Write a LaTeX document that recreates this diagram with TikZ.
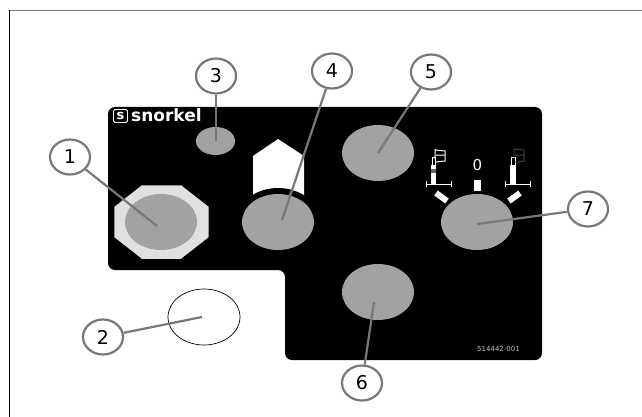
\documentclass[tikz,border=0pt]{standalone}
\usepackage{fontspec}
\setmainfont{DejaVu Sans}
\usetikzlibrary{shapes.geometric}
\definecolor{knobgray}{RGB}{163,162,160}
\definecolor{leadgray}{RGB}{120,120,120}
\tikzset{
    callout/.style={ellipse,draw=leadgray,line width=2.2pt,fill=white,minimum width=40pt,minimum height=35pt,inner sep=0pt,font=\fontsize{19}{19}\selectfont},
    knob/.style={ellipse,fill=knobgray,minimum width=72pt,minimum height=56pt,inner sep=0pt},
    leader/.style={draw=leadgray,line width=2.2pt},
    iconline/.style={draw=white,line width=1pt}
}
\begin{document}
\begin{tikzpicture}[x=1pt,y=-1pt]
    \useasboundingbox (0,0) rectangle (642,417);
    \draw[line width=1.8pt,leadgray] (9,10.5) -- (642,10.5);
    \draw[line width=1.8pt,black] (9.5,417) -- (9.5,10);

    % panel
    \fill[black,rounded corners=7pt] (108,107) -- (542,107) -- (542,360) -- (285,360) -- (285,270) -- (108,270) -- cycle;

    % logo
    \node[draw=white,rounded corners=1.5pt,line width=0.9pt,minimum width=14pt,minimum height=13pt,inner sep=0pt,text=white,font=\bfseries\fontsize{13}{13}\selectfont] (logobox) at (120.5,116) {s};
    \node[text=white,inner sep=0pt,anchor=west,font=\bfseries\fontsize{17}{17}\selectfont] (logotext) at (131,115) {snorkel};

    % push button
    \node[regular polygon,regular polygon sides=8,fill=black!12,minimum size=102pt,inner sep=0pt,yscale=0.78] (collar) at (161.5,222) {};
    \node[knob] (knobone) at (161,222) {};
    \node[ellipse,fill=knobgray,minimum width=39pt,minimum height=28pt,inner sep=0pt] (knobthree) at (215.5,141) {};

    % arrow over knob 4
    \fill[white] (278,139) -- (304,156) -- (304,196) -- (253,196) -- (253,156) -- cycle;
    \node[ellipse,fill=black,minimum width=84pt,minimum height=68pt,inner sep=0pt] (ringfour) at (278,222) {};
    \node[knob] (knobfour) at (278,222) {};
    \node[knob] (knobfive) at (378,153) {};
    \node[knob] (knobsix) at (378,292) {};
    \node[knob] (knobseven) at (477,222) {};
    \node[ellipse,draw=black,line width=0.7pt,minimum width=72pt,minimum height=56pt,inner sep=0pt] (ghost) at (204,317) {};

    % selector marks
    \draw[white,line width=6pt] (436,193) -- (447,201);
    \draw[white,line width=6pt] (520,193) -- (509,201);
    \fill[white] (474,180) rectangle (481,191);
    \node[text=white,inner sep=0pt,font=\fontsize{15}{15}\selectfont] (zero) at (477.5,165.5) {0};

    % lift icons
    \draw[iconline] (426,184) -- (451,184) (426,181) -- (426,187) (451,181) -- (451,187);
    \fill[white] (431,165) rectangle (436,185);
    \fill[black!60] (431,169) rectangle (436,173);
    \draw[iconline] (432,165) -- (432,157) -- (435,157) -- (435,165);
    \draw[iconline] (435,149) -- (435,160) (435,150) -- (445,151) -- (445,161) -- (436,162) (436,155) -- (445,155);
    \draw[iconline] (505,184) -- (530,184) (505,181) -- (505,187) (530,181) -- (530,187);
    \fill[white] (510,165) rectangle (516,185);
    \draw[iconline] (511,165) -- (511,157) -- (515,157) -- (515,165);
    \draw[black!75,line width=1pt] (514,148) -- (514,160) (514,149) -- (524,150) -- (524,161) -- (515,162) (515,155) -- (524,155);

    \node[text=black!25,inner sep=0pt,font=\fontsize{7}{7}\selectfont] (partno) at (498.5,348.5) {514442-001};

    % callouts
    \node[callout] (one) at (70,157) {1};
    \node[callout] (two) at (103,337) {2};
    \node[callout] (three) at (216,76) {3};
    \node[callout] (four) at (332,71) {4};
    \node[callout] (five) at (431,72) {5};
    \node[callout] (six) at (362,383) {6};
    \node[callout] (seven) at (588,209) {7};

    \coordinate (endone) at (157,226);
    \coordinate (endtwo) at (202,317);
    \coordinate (endthree) at (216,141);
    \coordinate (endfour) at (282,220);
    \coordinate (endfive) at (378,153);
    \coordinate (endsix) at (374,302);
    \coordinate (endseven) at (477,224);

    \draw[leader] (one) -- (endone);
    \draw[leader] (two) -- (endtwo);
    \draw[leader] (three) -- (endthree);
    \draw[leader] (four) -- (endfour);
    \draw[leader] (five) -- (endfive);
    \draw[leader] (six) -- (endsix);
    \draw[leader] (seven) -- (endseven);
\end{tikzpicture}
\end{document}
